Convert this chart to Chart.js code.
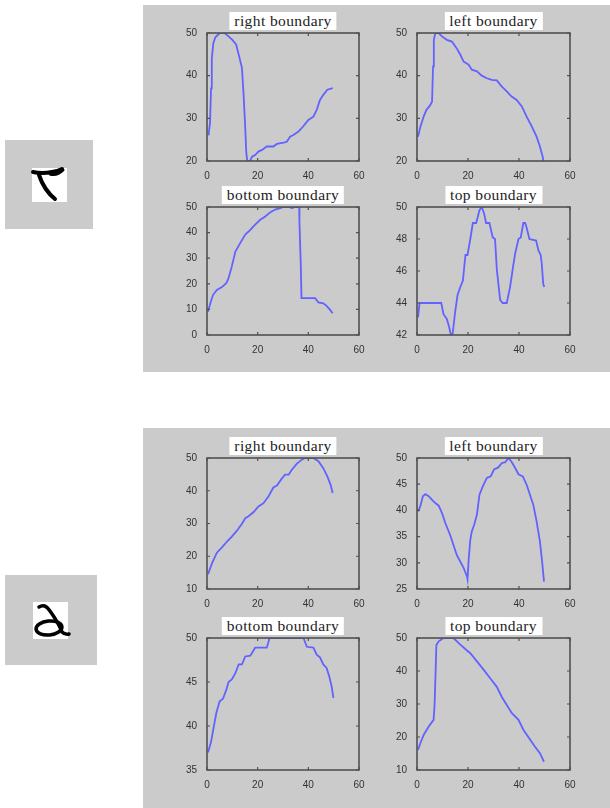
<!DOCTYPE html>
<html>
<head>
<meta charset="utf-8">
<script src="https://cdn.jsdelivr.net/npm/chart.js@4"></script>
<style>
  body { margin: 0; background: #fff; width: 610px; height: 808px; position: relative; overflow: hidden; }
  .panel { position: absolute; background: #cbcbcb; }
  .plot { position: absolute; }
  .title { position: absolute; background: #fff; font: 15.5px "Liberation Serif", serif; color: #222; letter-spacing: 0.4px;
           line-height: 18px; height: 18px; padding: 0 5px; transform: translateX(-50%); white-space: nowrap; }
  #glyphs { position: absolute; left: 0; top: 0; }
</style>
</head>
<body>
<div class="panel" style="left:143px;top:5px;width:467px;height:367px"></div>
<div class="panel" style="left:143px;top:428px;width:467px;height:380px"></div>
<div class="panel" style="left:5px;top:140px;width:88px;height:89px"></div>
<div class="panel" style="left:5px;top:575px;width:92px;height:90px"></div>
<canvas id="glyphs" width="110" height="808"></canvas>
<script>
// x ticks shared by all subplots
const X_TICKS = [0, 20, 40, 60];

// first character
const r1RightX = [0.6, 1.2, 1.6, 1.9, 2.5, 3.3, 5, 7, 8.5, 10, 11.5, 12.7, 13.8, 14.4, 15, 15.5, 15.9, 17, 17.8, 19, 20.3, 21.7, 23.6, 26.2, 27.6, 30.2, 31.5, 32.8, 34.1, 36.1, 38.1, 40, 42, 43.3, 44.6, 45.9, 47.5, 49.6];
const r1RightY = [26, 29, 37, 44, 47.6, 49, 50, 50, 49.2, 48.4, 47.3, 44.5, 41.8, 36, 29, 22, 20, 20, 21, 21.4, 22.2, 22.6, 23.4, 23.4, 24, 24.3, 24.5, 25.7, 26.1, 26.9, 28.2, 29.6, 30.4, 32, 34.3, 35.5, 36.7, 37.1];

const r1LeftX = [0.4, 1.3, 2.6, 3.7, 5, 5.9, 6.3, 6.6, 7.2, 8.5, 9.8, 11.7, 13.7, 15.6, 17, 18.3, 20.2, 21.5, 23.5, 25.4, 27.4, 29.3, 31.3, 33.2, 35.2, 37.1, 39.1, 41.1, 43, 45, 46.9, 48.2, 49.3, 49.5];
const r1LeftY = [25.7, 28, 30.4, 32, 32.9, 33.9, 42.2, 48.4, 50, 50, 49.2, 48.4, 48, 46.4, 44.9, 43.3, 42.6, 41.4, 41, 40, 39.4, 39, 38.9, 37.5, 36.3, 35.1, 34.3, 32.8, 30.4, 28.1, 25.7, 23.4, 21, 20];

const r1BottomX = [0.4, 1.3, 2.4, 3.9, 5.9, 7.6, 8.5, 9.8, 11.2, 13.1, 15.1, 17.1, 19, 21, 23, 24.9, 26.9, 28.9, 30.2, 32.2, 33.5, 34.8, 36.4, 36.5, 37, 37.3, 38.7, 42.7, 44, 45.9, 47.2, 48.6, 49.6];
const r1BottomY = [9.1, 12.4, 15.7, 17.6, 18.7, 20.2, 22.2, 26.8, 32.6, 35.9, 39.2, 41.1, 43.1, 45, 46.3, 47.9, 49, 49.6, 50, 50, 49.6, 50, 50, 43.7, 28, 14.4, 14.4, 14.4, 12.7, 12.4, 11.4, 9.8, 8.5];

const r1TopX = [0.4, 1, 2.6, 9.5, 10.4, 11.7, 12.6, 13.3, 14, 15, 15.9, 17, 18, 19, 19.8, 20.9, 21.9, 23.2, 24.5, 25.4, 26.3, 27.1, 28.4, 29.7, 30.6, 31.3, 32.6, 33.6, 35.2, 36.5, 37.6, 38.5, 39.8, 40.7, 41.7, 42.4, 43, 44.1, 46.7, 47.6, 48.5, 48.9, 49.5, 49.9];
const r1TopY = [43.1, 44, 44, 44, 43.3, 43, 42.5, 42, 42.1, 43.5, 44.5, 45, 45.4, 47, 47, 48, 49, 49, 49.8, 50, 49.6, 49, 49, 48.1, 48, 46.1, 44.2, 44, 44, 45, 46.2, 47.1, 48, 48.1, 49, 49, 48.7, 48, 47.9, 47.3, 47, 46.5, 45.2, 45];

// second character
const r2RightX = [0.4, 2, 3.9, 5.9, 7.9, 9.8, 11.8, 13.8, 15.1, 16.4, 18.4, 20.3, 22.3, 24.3, 26.2, 27.6, 29.5, 30.8, 32.2, 33.5, 35.4, 37.4, 38.7, 42, 44, 45.9, 47.5, 48.8, 49.6];
const r2RightY = [14.5, 17.9, 21.1, 22.7, 24.5, 26, 27.8, 29.9, 31.6, 32.2, 33.5, 35.2, 36.2, 38.3, 41, 41.6, 43.7, 44.9, 44.9, 46.4, 48.2, 49.5, 50, 50, 49, 46.9, 44.4, 41.8, 39.3];

const r2LeftX = [0.4, 1.3, 2.3, 3.3, 4.6, 5.9, 7.2, 8.5, 9.8, 11.1, 13, 14.3, 15.6, 17, 18.3, 19.6, 19.8, 20.3, 20.9, 21.5, 22.4, 23.5, 24.5, 25.8, 27.4, 28.9, 30.2, 31.9, 33.2, 34.6, 35.9, 37.2, 38.5, 39.8, 41.5, 43, 44.3, 45.6, 46.9, 48.2, 49.2, 49.8];
const r2LeftY = [39.8, 40.8, 42.7, 43.1, 42.7, 42, 41.4, 40.9, 39.5, 37.6, 35.3, 33.4, 31.5, 30.2, 29, 27.4, 26.9, 30.9, 34.4, 36, 37.2, 39.2, 43, 44.6, 46.2, 46.5, 47.8, 48.2, 49, 49.2, 50, 49.2, 48.1, 46.9, 46.5, 44.9, 43, 41.1, 37.9, 34.1, 29.6, 26.4];

const r2BottomX = [0.4, 1.6, 2.6, 3.7, 5, 6.3, 7.6, 8.5, 9.8, 11.2, 12.5, 13.8, 15.1, 17.1, 19, 23.6, 24.7, 38.1, 39.4, 42, 43.3, 44.6, 45.9, 47.2, 48.3, 49.2, 49.9];
const r2BottomY = [37, 38.2, 39.8, 41.5, 42.8, 43.1, 44.1, 45, 45.3, 46, 47, 47, 47.9, 48, 48.9, 48.9, 50, 50, 49, 48.9, 48.1, 47.8, 47, 46.6, 45.6, 44.5, 43.2];

const r2TopX = [0.4, 1.3, 2.6, 4.6, 6.5, 6.9, 7.3, 7.6, 8.5, 10.4, 14.3, 17, 19.6, 20.9, 23.5, 26.1, 28.7, 31.3, 33.2, 35.2, 37.2, 39.8, 41.7, 44, 46.2, 48.2, 49.8];
const r2TopY = [16.1, 18.1, 20.6, 23.2, 25.2, 29.7, 39.9, 47.9, 49, 50, 50, 48, 46.2, 45.4, 42.9, 40.4, 37.8, 35.2, 32.2, 29.7, 27.2, 25.2, 22.2, 19.6, 17.1, 15.1, 12.5];

// y tick labels per subplot
const r1RightTicks = [20, 30, 40, 50];
const r1LeftTicks = [20, 30, 40, 50];
const r1BottomTicks = [0, 10, 20, 30, 40, 50];
const r1TopTicks = [42, 44, 46, 48, 50];
const r2RightTicks = [10, 20, 30, 40, 50];
const r2LeftTicks = [25, 30, 35, 40, 45, 50];
const r2BottomTicks = [35, 40, 45, 50];
const r2TopTicks = [10, 20, 30, 40, 50];

const titles = ["right boundary", "left boundary", "bottom boundary", "top boundary"];

// axes boxes [left, top, right, bottom]
const plots = [
  { box: [207, 33, 359, 161], xs: r1RightX, ys: r1RightY, ticks: r1RightTicks, title: titles[0], tTop: 12 },
  { box: [417, 33, 570, 161], xs: r1LeftX, ys: r1LeftY, ticks: r1LeftTicks, title: titles[1], tTop: 12 },
  { box: [207, 207, 359, 335], xs: r1BottomX, ys: r1BottomY, ticks: r1BottomTicks, title: titles[2], tTop: 186 },
  { box: [417, 207, 570, 335], xs: r1TopX, ys: r1TopY, ticks: r1TopTicks, title: titles[3], tTop: 186 },
  { box: [207, 458, 359, 589], xs: r2RightX, ys: r2RightY, ticks: r2RightTicks, title: titles[0], tTop: 437 },
  { box: [417, 458, 570, 589], xs: r2LeftX, ys: r2LeftY, ticks: r2LeftTicks, title: titles[1], tTop: 437 },
  { box: [207, 638, 359, 770], xs: r2BottomX, ys: r2BottomY, ticks: r2BottomTicks, title: titles[2], tTop: 617 },
  { box: [417, 638, 570, 770], xs: r2TopX, ys: r2TopY, ticks: r2TopTicks, title: titles[3], tTop: 617 },
];

const PAD_L = 32, PAD_T = 8, PAD_R = 10, PAD_B = 22;

// matlab style box with inward ticks on all sides
const boxPlugin = {
  id: "box",
  afterDraw(chart) {
    const { ctx, chartArea: a, scales } = chart;
    ctx.save();
    ctx.strokeStyle = "#505050";
    ctx.lineWidth = 1.6;
    ctx.strokeRect(a.left, a.top, a.right - a.left, a.bottom - a.top);
    ctx.lineWidth = 1.2;
    ctx.beginPath();
    scales.x.ticks.forEach(t => {
      const px = scales.x.getPixelForValue(t.value);
      ctx.moveTo(px, a.bottom); ctx.lineTo(px, a.bottom - 3);
      ctx.moveTo(px, a.top); ctx.lineTo(px, a.top + 3);
    });
    scales.y.ticks.forEach(t => {
      const py = scales.y.getPixelForValue(t.value);
      ctx.moveTo(a.left, py); ctx.lineTo(a.left + 3, py);
      ctx.moveTo(a.right, py); ctx.lineTo(a.right - 3, py);
    });
    ctx.stroke();
    ctx.restore();
  }
};

const tickFont = { family: "Liberation Sans", size: 10 };

plots.forEach(p => {
  const [l, t, r, b] = p.box;
  const cv = document.createElement("canvas");
  cv.className = "plot";
  cv.width = r - l + PAD_L + PAD_R;
  cv.height = b - t + PAD_T + PAD_B;
  cv.style.left = (l - PAD_L) + "px";
  cv.style.top = (t - PAD_T) + "px";
  document.body.appendChild(cv);

  const ttl = document.createElement("div");
  ttl.className = "title";
  ttl.textContent = p.title;
  ttl.style.left = ((l + r) / 2) + "px";
  ttl.style.top = p.tTop + "px";
  document.body.appendChild(ttl);

  new Chart(cv.getContext("2d"), {
    type: "line",
    data: {
      datasets: [{
        data: p.xs.map((x, i) => ({ x: x, y: p.ys[i] })),
        borderColor: "#6262ff",
        borderWidth: 1.8,
        pointRadius: 0,
        tension: 0,
      }],
    },
    options: {
      responsive: false,
      animation: false,
      layout: { padding: { left: 0, top: PAD_T, right: PAD_R, bottom: 0 } },
      plugins: { legend: { display: false }, tooltip: { enabled: false } },
      scales: {
        x: {
          type: "linear", min: 0, max: 60,
          afterBuildTicks: s => { s.ticks = X_TICKS.map(v => ({ value: v })); },
          afterFit: s => { s.height = PAD_B; },
          grid: { display: false },
          border: { display: false },
          ticks: { font: tickFont, color: "#333", padding: 1, maxRotation: 0 },
        },
        y: {
          type: "linear", min: p.ticks[0], max: p.ticks[p.ticks.length - 1],
          afterBuildTicks: s => { s.ticks = p.ticks.map(v => ({ value: v })); },
          afterFit: s => { s.width = PAD_L; },
          grid: { display: false },
          border: { display: false },
          ticks: { font: tickFont, color: "#333", padding: 2 },
        },
      },
    },
    plugins: [boxPlugin],
  });
});

// handwritten character thumbnails
const g = document.getElementById("glyphs").getContext("2d");
g.fillStyle = "#fff";
g.fillRect(32, 168, 35, 34);
g.fillRect(33, 602, 35, 37);
g.strokeStyle = "#000";
g.lineCap = "round";
g.lineJoin = "round";
g.lineWidth = 4;
g.beginPath();
g.moveTo(33, 172);
g.quadraticCurveTo(42, 174, 52, 172);
g.quadraticCurveTo(58, 171, 62, 169);
g.moveTo(39, 175);
g.quadraticCurveTo(44, 190, 55, 199);
g.stroke();
g.lineWidth = 3;
g.beginPath();
g.moveTo(50, 174);
g.quadraticCurveTo(57, 176, 63, 170);
g.stroke();

g.lineWidth = 3.5;
g.beginPath();
g.moveTo(39, 607);
g.quadraticCurveTo(45, 603, 50, 611);
g.quadraticCurveTo(58, 622, 62, 632);
g.quadraticCurveTo(65, 635, 69, 634);
g.stroke();
g.beginPath();
g.ellipse(49, 628, 13, 7, -0.1, 0, Math.PI * 2);
g.stroke();
</script>
</body>
</html>
